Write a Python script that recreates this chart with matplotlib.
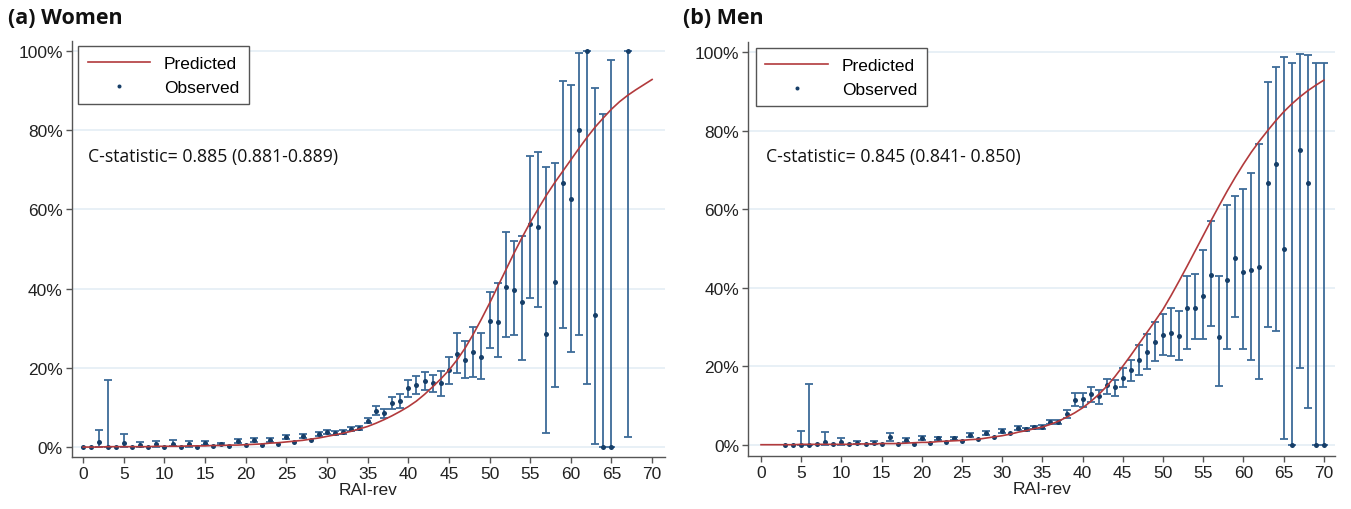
import numpy as np
import matplotlib
matplotlib.use("Agg")
import matplotlib.pyplot as plt
import matplotlib.ticker as mticker

# ---- data ----
# (a) Women
w_pred_x = list(range(0, 71))
w_pred = [0.0, 0.0, 0.0, 0.1, 0.1, 0.1, 0.1, 0.1, 0.1, 0.2, 0.2, 0.2, 0.2, 0.3, 0.3, 0.3, 0.4, 0.4, 0.5, 0.5,
          0.6, 0.7, 0.8, 1.0, 1.1, 1.3, 1.5, 1.7, 2.0, 2.3, 2.7, 3.1, 3.5, 4.0, 4.6, 5.2, 6.0, 6.9, 7.9, 9.0,
          10.2, 11.6, 13.3, 15.2, 17.2, 19.4, 22.0, 25.0, 28.5, 32.3, 36.3, 40.5, 44.7, 48.9, 52.9, 56.7,
          60.2, 63.6, 66.7, 69.6, 72.5, 75.4, 78.2, 80.8, 83.1, 85.3, 87.2, 88.8, 90.2, 91.5, 92.8]
w_obs_x = list(range(0, 66)) + [67]
w_obs = [0.0, 0.0, 1.3, 0.0, 0.0, 1.1, 0.0, 0.4, 0.0, 0.8, 0.1, 0.8, 0.0, 0.8, 0.1, 1.1, 0.3, 0.8, 0.3, 1.6,
         0.4, 1.7, 0.6, 1.8, 0.8, 2.5, 1.4, 2.9, 1.9, 3.3, 3.7, 3.6, 3.7, 4.6, 4.7, 6.7, 9.2, 8.5, 11.1, 11.7,
         14.8, 15.7, 16.6, 16.1, 16.1, 19.5, 23.4, 21.9, 24.0, 22.8, 31.9, 31.7, 40.5, 39.7, 36.7, 56.2,
         55.6, 28.6, 41.7, 66.7, 62.6, 80.0, 100.0, 33.4, 0.0, 0.0, 100.0]
nan = np.nan
w_lo = [nan, nan, 0.0, 0.0, nan, 0.0, nan, 0.0, nan, 0.1, nan, 0.2, nan, 0.1, nan, 0.5, nan, 0.4, nan, 1.1,
        nan, 1.2, nan, 1.4, nan, 2.0, nan, 2.4, nan, 2.8, 3.3, 3.1, 3.3, 4.1, 4.2, 6.1, 8.0, 7.4, 9.6, 9.9,
        12.7, 13.5, 14.3, 14.0, 12.9, 16.0, 18.7, 17.4, 17.8, 17.1, 25.1, 22.8, 27.7, 28.4, 22.0, 37.7,
        35.3, 3.6, 15.2, 30.0, 24.1, 28.3, 15.8, 0.7, 0.0, 0.0, 2.5]
w_hi = [nan, nan, 4.3, 17.0, nan, 3.3, nan, 1.4, nan, 1.6, nan, 1.7, nan, 1.5, nan, 1.6, nan, 1.1, nan, 2.1,
        nan, 2.2, nan, 2.2, nan, 3.0, nan, 3.4, nan, 3.8, 4.2, 4.0, 4.2, 5.1, 5.2, 7.3, 10.4, 9.6, 12.6, 13.5,
        16.9, 18.0, 18.9, 18.2, 19.2, 22.8, 28.7, 26.8, 30.4, 28.9, 39.2, 41.5, 54.2, 51.9, 53.2, 73.6,
        74.4, 70.6, 71.8, 92.5, 91.5, 99.6, 100.0, 90.6, 84.1, 97.6, 100.0]

# (b) Men
m_pred_x = list(range(0, 71))
m_pred = [0.0, 0.0, 0.0, 0.0, 0.0, 0.1, 0.1, 0.1, 0.1, 0.1, 0.1, 0.1, 0.2, 0.2, 0.2, 0.3, 0.3, 0.3, 0.4, 0.5,
          0.6, 0.6, 0.8, 0.9, 1.0, 1.1, 1.3, 1.4, 1.7, 2.0, 2.3, 2.7, 3.2, 3.6, 4.1, 4.5, 5.2, 6.0, 7.0, 8.1,
          9.4, 11.0, 12.8, 14.9, 17.3, 20.0, 22.8, 25.7, 28.6, 31.5, 34.5, 38.0, 41.7, 45.5, 49.4, 53.3,
          57.2, 61.0, 64.7, 68.2, 71.5, 74.6, 77.4, 80.0, 82.5, 84.8, 86.8, 88.6, 90.2, 91.6, 92.9]
m_obs_x = list(range(3, 71))
m_obs = [0.0, 0.0, 0.0, 0.0, 0.2, 0.7, 0.1, 0.6, 0.2, 0.5, 0.2, 0.5, 0.3, 2.0, 0.3, 1.2, 0.3, 1.8, 0.5, 1.7,
         0.8, 1.6, 1.0, 2.5, 1.4, 3.0, 1.9, 3.5, 2.9, 4.3, 3.9, 4.4, 4.6, 5.7, 5.8, 7.8, 11.5, 11.6, 12.9,
         12.3, 15.1, 14.6, 17.1, 19.1, 21.6, 23.7, 26.2, 27.9, 28.4, 27.7, 34.9, 34.9, 37.8, 43.2, 27.4,
         42.0, 47.7, 44.1, 44.6, 45.4, 66.8, 71.5, 50.0, 0.0, 75.1, 66.7, 0.0, 0.0]
m_lo = [nan, nan, 0.0, 0.0, nan, 0.0, nan, 0.0, nan, 0.1, nan, 0.1, nan, 1.0, nan, 0.7, nan, 1.3, nan, 1.3,
        nan, 1.2, nan, 2.0, nan, 2.5, nan, 3.0, nan, 3.8, 3.4, 4.0, 4.1, 5.2, 5.3, 6.9, 9.8, 9.7, 10.9,
        10.5, 13.0, 12.3, 14.8, 16.3, 17.8, 19.3, 21.4, 22.9, 22.6, 21.7, 24.4, 26.9, 26.9, 30.2, 15.0,
        24.5, 32.6, 24.4, 21.5, 16.8, 30.0, 29.1, 1.4, 0.0, 19.5, 9.4, 0.0, 0.0]
m_hi = [nan, nan, 3.4, 15.5, nan, 3.3, nan, 1.7, nan, 0.9, nan, 0.9, nan, 3.1, nan, 1.7, nan, 2.3, nan, 2.0,
        nan, 2.0, nan, 3.0, nan, 3.5, nan, 4.0, nan, 4.8, 4.3, 4.8, 5.1, 6.2, 6.3, 8.8, 13.1, 13.3, 14.7,
        13.9, 16.8, 16.6, 19.5, 21.5, 25.5, 28.1, 31.3, 33.3, 34.8, 34.0, 42.9, 43.5, 49.5, 56.9, 42.9,
        61.1, 63.3, 65.1, 69.3, 76.7, 92.5, 96.3, 98.7, 97.4, 99.5, 99.3, 97.4, 97.4]

panels = [
    ("(a) Women", "C-statistic= 0.885 (0.881-0.889)",
     w_pred_x, w_pred, w_obs_x, w_obs, w_lo, w_hi),
    ("(b) Men", "C-statistic= 0.845 (0.841- 0.850)",
     m_pred_x, m_pred, m_obs_x, m_obs, m_lo, m_hi),
]

# layout in figure fractions, measured on the reference
ax_rects = [[0.0531, 0.102, 0.4392, 0.8163], [0.5539, 0.1045, 0.4343, 0.811]]
xlims = [(-1.4, 71.6), (-1.58, 71.4)]
ylims = [(-2.5, 102.6), (-2.8, 102.6)]
title_x = [8, 683]
leg_anchor = [(0.0106, 0.987), (0.013, 0.9855)]

red = "#b23a3c"
blue_bar = "#3d6b99"
blue_dot = "#163e68"
grid_col = "#e8f0f6"
tick_font = "Liberation Sans"
fs = 12.5

fig = plt.figure(figsize=(13.51, 5.10), dpi=100)

for i, (title, cstat, px, py, ox, oy, lo, hi) in enumerate(panels):
    ax = fig.add_axes(ax_rects[i])
    ox = np.array(ox)
    oy = np.array(oy)
    lo = np.array(lo)
    hi = np.array(hi)
    has_ci = ~np.isnan(lo)

    # horizontal grid lines
    for g in range(0, 101, 20):
        ax.axhline(g, color=grid_col, lw=1.4, zorder=0)

    ax.errorbar(ox[has_ci], oy[has_ci],
                yerr=[oy[has_ci] - lo[has_ci], hi[has_ci] - oy[has_ci]],
                fmt="none", ecolor=blue_bar, elinewidth=1.3, capsize=2.6, capthick=1.3, zorder=2)
    ax.plot(ox, oy, "o", color=blue_dot, ms=3.6, mew=0, zorder=3, label="Observed")
    ax.plot(px, py, color=red, lw=1.2, zorder=4, label="Predicted")

    ax.set_xlim(*xlims[i])
    ax.set_ylim(*ylims[i])
    ax.set_xticks(range(0, 71, 5))
    ax.set_yticks(range(0, 101, 20))
    ax.yaxis.set_major_formatter(mticker.FuncFormatter(lambda v, p: "%d%%" % v))

    for s in ["top", "right"]:
        ax.spines[s].set_visible(False)
    for s in ["left", "bottom"]:
        ax.spines[s].set_color("#555555")
        ax.spines[s].set_linewidth(1.0)
    ax.tick_params(axis="both", direction="out", length=4.5, width=1.0, color="#555555",
                   labelsize=fs, labelcolor="#222222")
    ax.tick_params(axis="y", pad=2)
    ax.tick_params(axis="x", pad=2)
    for lab in ax.get_xticklabels() + ax.get_yticklabels():
        lab.set_fontfamily(tick_font)

    ax.set_xlabel("RAI-rev", fontsize=fs, family=tick_font, color="#222222", labelpad=1)

    # legend: Predicted first, then Observed
    h, l = ax.get_legend_handles_labels()
    leg = ax.legend([h[1], h[0]], [l[1], l[0]], loc="upper left", bbox_to_anchor=leg_anchor[i],
                    borderaxespad=0, fancybox=False, edgecolor="#555555", framealpha=1,
                    prop={"family": tick_font, "size": fs}, handlelength=3.6, handletextpad=0.8,
                    labelspacing=0.5, borderpad=0.55, markerscale=0.8)
    leg.get_frame().set_linewidth(1.0)

    ax.text(0.6, 73.6, cstat, family="Open Sans", fontsize=12.7, color="#111111", va="center", ha="left")

    fig.text(title_x[i] / 1351, 1 - 18 / 510, title, family="Open Sans", fontweight="bold",
             fontsize=15.5, va="center", ha="left", color="#111111")

fig.savefig("out.png", dpi=100)
